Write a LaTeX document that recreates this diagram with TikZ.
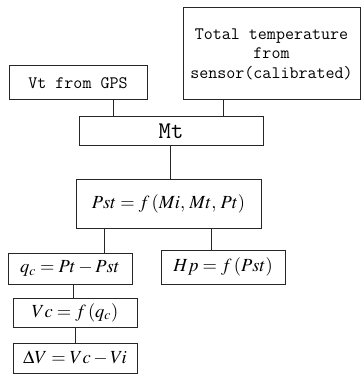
\documentclass[tikz,border=0pt]{standalone}
\usepackage{mathptmx}
\usepackage{fontspec}
\tikzset{
  box/.style={draw=black!85, line width=1pt, inner sep=0pt, align=center},
  link/.style={draw=black!85, line width=1pt},
  mono/.style={font=\fontsize{17.5}{19.5}\selectfont\ttfamily},
  bigmono/.style={font=\fontsize{24}{26}\selectfont\ttfamily},
  eq/.style={font=\fontsize{18.5}{21}\selectfont}
}
\begin{document}
\begin{tikzpicture}[x=1pt,y=-1pt]
\useasboundingbox (0,0) rectangle (361,374);
\node[box, mono, minimum width=138pt, minimum height=34pt] (gps) at (78,83) {Vt from GPS};
\node[box, mono, minimum width=177pt, minimum height=92pt] (temp) at (271.5,54) {Total temperature\\from\\sensor(calibrated)};
\node[box, bigmono, minimum width=184pt, minimum height=29pt] (mt) at (171,131.5) {Mt};
\node[box, eq, minimum width=185pt, minimum height=49pt] (pst) at (168.5,203.5) {$Pst = f\,(Mi,\,Mt,\,Pt)$};
\node[box, eq, minimum width=124pt, minimum height=31pt] (qc) at (70,268.5) {$q_{c} = Pt - Pst$};
\node[box, eq, minimum width=124pt, minimum height=34pt] (hp) at (223,267) {$Hp = f\,(Pst)$};
\node[box, eq, minimum width=124pt, minimum height=29pt] (vc) at (75,312.5) {$Vc = f\,(q_{c})$};
\node[box, eq, minimum width=124pt, minimum height=30pt] (dv) at (75,358) {$\Delta V = Vc - Vi$};
\coordinate (c1) at (113,0);
\coordinate (c2) at (223,0);
\coordinate (c3) at (170,0);
\coordinate (c4) at (104,0);
\coordinate (c5) at (211,0);
\coordinate (c6) at (73,0);
\coordinate (c7) at (75,0);
\draw[link] (gps.south -| c1) -- (mt.north -| c1);
\draw[link] (temp.south -| c2) -- (mt.north -| c2);
\draw[link] (mt.south -| c3) -- (pst.north -| c3);
\draw[link] (pst.south -| c4) -- (qc.north -| c4);
\draw[link] (pst.south -| c5) -- (hp.north -| c5);
\draw[link] (qc.south -| c6) -- (vc.north -| c6);
\draw[link] (vc.south -| c7) -- (dv.north -| c7);
\end{tikzpicture}
\end{document}
